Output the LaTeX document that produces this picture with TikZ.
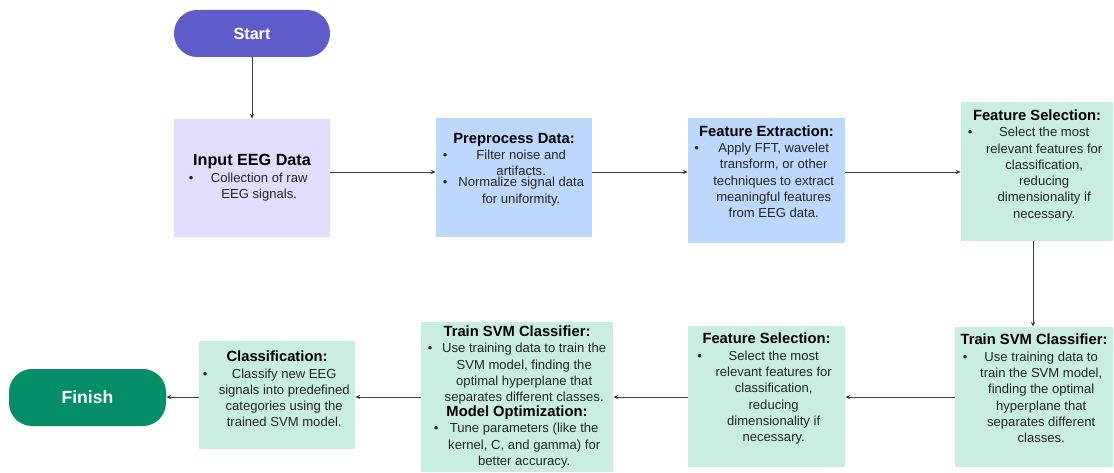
\documentclass[tikz,border=0pt]{standalone}
\usepackage{fontspec}
\setmainfont{Liberation Sans}
\usetikzlibrary{positioning}
\usetikzlibrary{arrows.meta}
\newdimen\pxu \pxu=0.025cm
\definecolor{startc}{RGB}{94,92,200}
\definecolor{finishc}{RGB}{3,142,104}
\definecolor{lavc}{RGB}{226,220,253}
\definecolor{bluec}{RGB}{190,215,252}
\definecolor{mintc}{RGB}{201,237,227}
\newcommand{\bitem}[2]{\makebox[1.1em][l]{\textbullet}\parbox[t]{#1}{\centering #2}}
\newcommand{\btitle}[1]{{\fontsize{10.5}{12.5}\selectfont\bfseries\color{black}#1}}
\newcommand{\padb}[1]{\rule[-#1\pxu]{0pt}{#1\pxu}}
\tikzset{
    pillnode/.style = {rectangle, rounded corners=0.58cm, align=center, text=white, font=\fontsize{11.5}{13}\selectfont\bfseries},
    startnode/.style = {pillnode, fill=startc, minimum width=156\pxu, minimum height=47\pxu},
    finishnode/.style = {pillnode, fill=finishc, minimum width=157\pxu, minimum height=57\pxu, font=\fontsize{12.5}{14}\selectfont\bfseries},
    boxnode/.style = {rectangle, align=center, inner sep=0pt, text=black!85, font=\fontsize{9.3}{11.6}\selectfont},
    boxl/.style = {boxnode, fill=lavc},
    boxb/.style = {boxnode, fill=bluec},
    boxm/.style = {boxnode, fill=mintc},
    edgen/.style = {-{Stealth[length=3.5pt,width=3pt]}, line width=0.6pt, black!75},
}

\begin{document}
\begin{tikzpicture}[x=0.025cm,y=-0.025cm]
%
\path[use as bounding box] (0,0) rectangle (1114,473);
%
\node[startnode] at (252,33.5) (start) {Start};
\node[boxl, minimum width=156\pxu, minimum height=118\pxu] at (252,178) (inp)
    {{\fontsize{11.5}{14}\selectfont\bfseries\color{black}Input EEG Data}\\
     \bitem{112\pxu}{Collection of raw\\EEG signals.}};
\node[boxb, minimum width=156\pxu, minimum height=119\pxu] at (514,177.5) (prep)
    {\btitle{Preprocess Data:}\\
     \bitem{128\pxu}{Filter noise and\\artifacts.}\\
     \bitem{128\pxu}{Normalize signal data\\for uniformity.\padb{19}}};
\node[boxb, minimum width=157\pxu, minimum height=125\pxu] at (766.5,180.5) (fext)
    {\btitle{Feature Extraction:}\\
     \bitem{130\pxu}{Apply FFT, wavelet\\transform, or other\\techniques to extract\\meaningful features\\from EEG data.\padb{18}}};
\node[boxm, minimum width=152\pxu, minimum height=139\pxu] at (1037,171.5) (fsela)
    {\btitle{Feature Selection:}\\
     \bitem{124\pxu}{Select the most\\relevant features for\\classification,\\reducing\\dimensionality if\\necessary.\padb{15}}};
\node[boxm, minimum width=158\pxu, minimum height=140\pxu] at (1034,397) (traina)
    {\btitle{Train SVM Classifier:}\\
     \bitem{128\pxu}{Use training data to\\train the SVM model,\\finding the optimal\\hyperplane that\\separates different\\classes.\padb{17}}};
\node[boxm, minimum width=157\pxu, minimum height=141\pxu] at (766.5,396.5) (fselb)
    {\btitle{Feature Selection:}\\
     \bitem{124\pxu}{Select the most\\relevant features for\\classification,\\reducing\\dimensionality if\\necessary.\padb{18}}};
\node[boxm, minimum width=192\pxu, minimum height=150\pxu] at (517,397) (trainb)
    {\btitle{Train SVM Classifier:}\\
     \bitem{164\pxu}{Use training data to train the\\SVM model, finding the\\optimal hyperplane that\\separates different classes.}\\
     \btitle{Model Optimization:}\\
     \bitem{152\pxu}{Tune parameters (like the\\kernel, C, and gamma) for\\better accuracy.}};
\node[boxm, minimum width=156\pxu, minimum height=108\pxu] at (277,395) (cls)
    {\btitle{Classification:}\\
     \bitem{134\pxu}{Classify new EEG\\signals into predefined\\categories using the\\trained SVM model.\padb{12}}};
\node[finishnode] at (87.5,397.5) (finish) {Finish};
%
\coordinate (rowa) at (0,172);
\coordinate (rowb) at (0,397);
\coordinate (colr) at (1033,0);
%
\draw[edgen] (start) -- (inp);
\draw[edgen] (inp.east |- rowa) -- (prep.west |- rowa);
\draw[edgen] (prep.east |- rowa) -- (fext.west |- rowa);
\draw[edgen] (fext.east |- rowa) -- (fsela.west |- rowa);
\draw[edgen] (fsela.south -| colr) -- (traina.north -| colr);
\draw[edgen] (traina.west |- rowb) -- (fselb.east |- rowb);
\draw[edgen] (fselb.west |- rowb) -- (trainb.east |- rowb);
\draw[edgen] (trainb.west |- rowb) -- (cls.east |- rowb);
\draw[edgen] (cls.west |- rowb) -- (finish.east |- rowb);

\end{tikzpicture}
\end{document}
